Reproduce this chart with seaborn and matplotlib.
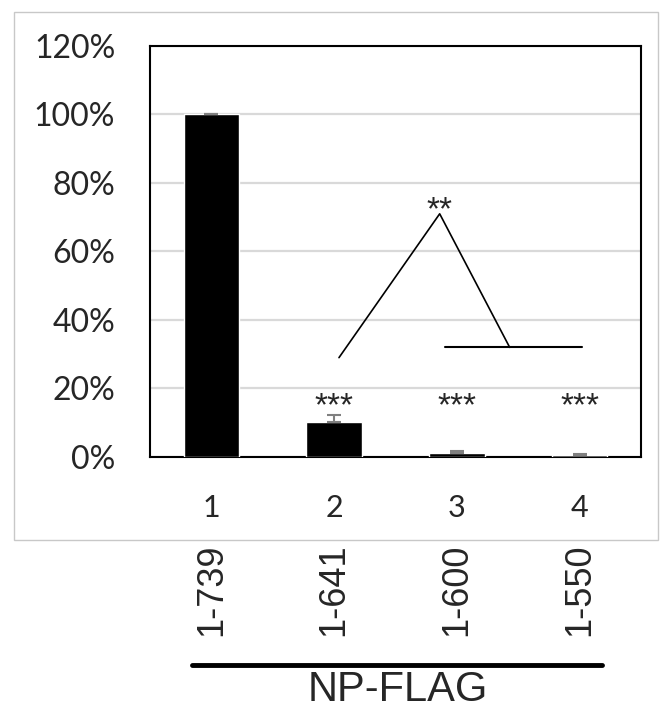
import seaborn as sns
import pandas as pd
import matplotlib.pyplot as plt
from matplotlib.patches import Rectangle
from matplotlib.lines import Line2D

lanes = ["1", "2", "3", "4"]
constructs = ["1-739", "1-641", "1-600", "1-550"]
values = [1.00, 0.103, 0.012, 0.005]
errors = [0.002, 0.020, 0.005, 0.004]
stars = ["", "***", "***", "***"]

# bracket for the ** comparison (data coords)
tri_x = [1.04, 1.86, 2.43]
tri_y = [0.29, 0.71, 0.32]
bar_x = [1.90, 3.02]
bar_y = [0.32, 0.32]

sns.set_theme(style="white")
plt.rcParams['font.family'] = ['Lato', 'DejaVu Sans']

fig = plt.figure(figsize=(6.72, 7.14), dpi=100)
ax = fig.add_axes([0.223, 0.360, 0.731, 0.5756])

df = pd.DataFrame({"lane": lanes, "value": values})
sns.barplot(data=df, x="lane", y="value", color="black", width=0.45,
            saturation=1, errorbar=None, ax=ax, zorder=3)
ax.errorbar(range(len(lanes)), values, yerr=[[0] * 4, errors], fmt="none",
            ecolor="#808080", elinewidth=1.5, capsize=5, capthick=1.5, zorder=4)

ax.set_ylim(0, 1.2)
ax.set_xlim(-0.5, 3.5)
ax.set_yticks([0, 0.2, 0.4, 0.6, 0.8, 1.0, 1.2])
ax.set_yticklabels([f"{int(round(v * 100))}%" for v in ax.get_yticks()], fontsize=23)
ax.tick_params(axis="y", length=0, pad=25)
ax.tick_params(axis="x", length=0, pad=27, labelsize=22)
ax.set_xlabel("")
ax.set_ylabel("")
ax.yaxis.grid(True, color="#d9d9d9", linewidth=1.6, zorder=0)
ax.set_axisbelow(True)
for sp in ax.spines.values():
    sp.set_color("black")
    sp.set_linewidth(1.5)
    sp.set_visible(True)

for i, s in enumerate(stars):
    if s:
        ax.text(i, 0.10, s, ha="center", va="bottom", fontsize=24,
                family=["Liberation Sans", "DejaVu Sans"])

ax.plot(tri_x, tri_y, color="black", lw=1.2, zorder=5)
ax.plot(bar_x, bar_y, color="black", lw=1.5, zorder=5)
ax.text(1.86, 0.675, "**", ha="center", va="bottom", fontsize=24,
        family=["Liberation Sans", "DejaVu Sans"])

trans = ax.get_xaxis_transform()
for i, c in enumerate(constructs):
    ax.text(i, -0.21, c, rotation=90, ha="center", va="top", fontsize=26,
            family=["Liberation Sans", "DejaVu Sans"], transform=trans, clip_on=False)

ax.add_line(Line2D([-0.16, 3.18], [-0.506, -0.506], color="black", lw=3.5,
                   transform=trans, clip_on=False))
ax.text(1.52, -0.567, "NP-FLAG", ha="center", va="center", fontsize=30,
        family=["Liberation Sans", "DejaVu Sans"], transform=trans, clip_on=False)

fig.patches.append(Rectangle((0.0208, 0.2437), 0.958, 0.7395, transform=fig.transFigure,
                             fill=False, edgecolor="#c8c8c8", lw=1, zorder=-1))

fig.savefig("out.png", dpi=100, facecolor="white")
